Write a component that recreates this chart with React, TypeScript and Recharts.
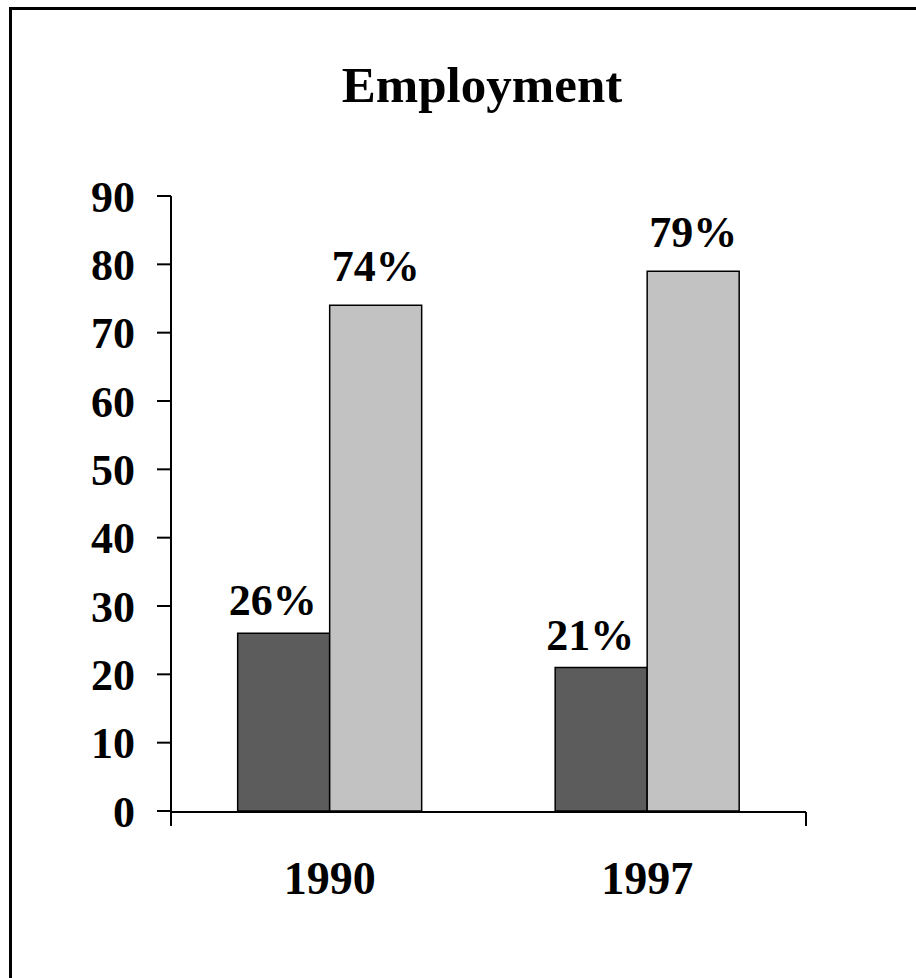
import { BarChart, Bar, XAxis, YAxis, LabelList } from "recharts";

const years = ["1990", "1997"];
const darkValues = [26, 21];
const lightValues = [74, 79];
const yTicks = [0, 10, 20, 30, 40, 50, 60, 70, 80, 90];
const bandEdges = [0, 1, 2];

const data = years.map((year, i) => ({
  year,
  dark: darkValues[i],
  light: lightValues[i],
}));

const serif = "'Liberation Serif', 'Times New Roman', serif";

export default function App() {
  return (
    <div
      style={{
        position: "absolute",
        left: 0,
        top: 0,
        width: 916,
        height: 978,
        overflow: "hidden",
        background: "#fff",
        fontFamily: serif,
      }}
    >
      <div
        style={{
          position: "absolute",
          left: 9,
          top: 7,
          width: 940,
          height: 1000,
          border: "3px solid #000",
        }}
      />
      <div
        style={{
          position: "absolute",
          left: 482,
          top: 60,
          transform: "translateX(-50%)",
          whiteSpace: "nowrap",
          fontSize: 51,
          lineHeight: "51px",
          fontWeight: "bold",
          color: "#000",
        }}
      >
        Employment
      </div>
      <div style={{ position: "absolute", left: 0, top: 0 }}>
        <BarChart
          width={916}
          height={978}
          data={data}
          margin={{ top: 196, right: 110, bottom: 165, left: 0 }}
          barCategoryGap="21%"
          barGap={0}
        >
          {/* band-edge ticks on the x axis, as in the original */}
          <XAxis
            xAxisId="edge"
            type="number"
            domain={[0, 2]}
            ticks={bandEdges}
            interval={0}
            height={1}
            tickFormatter={() => ""}
            tickSize={14}
            stroke="#000"
            strokeWidth={2}
          />
          <XAxis
            xAxisId="cat"
            dataKey="year"
            height={1}
            axisLine={false}
            tickLine={false}
            tickSize={14}
            tickMargin={36}
            tick={{ fill: "#000", fontSize: 46, fontWeight: "bold", fontFamily: serif }}
          />
          <YAxis
            domain={[0, 90]}
            ticks={yTicks}
            width={171}
            tickSize={14}
            tickMargin={22}
            interval={0}
            stroke="#000"
            strokeWidth={2}
            tick={{ fill: "#000", fontSize: 44, fontWeight: "bold", fontFamily: serif }}
          />
          <Bar
            xAxisId="cat"
            dataKey="dark"
            fill="#5c5c5c"
            stroke="#000"
            strokeWidth={1.5}
            isAnimationActive={false}
          >
            <LabelList
              dataKey="dark"
              position="top"
              offset={18}
              dx={-11}
              formatter={(v: any) => `${v}%`}
              style={{ fill: "#000", fontSize: 44, fontWeight: "bold", fontFamily: serif }}
            />
          </Bar>
          <Bar
            xAxisId="cat"
            dataKey="light"
            fill="#c2c2c2"
            stroke="#000"
            strokeWidth={1.5}
            isAnimationActive={false}
          >
            <LabelList
              dataKey="light"
              position="top"
              offset={24}
              formatter={(v: any) => `${v}%`}
              style={{ fill: "#000", fontSize: 44, fontWeight: "bold", fontFamily: serif }}
            />
          </Bar>
        </BarChart>
      </div>
    </div>
  );
}
